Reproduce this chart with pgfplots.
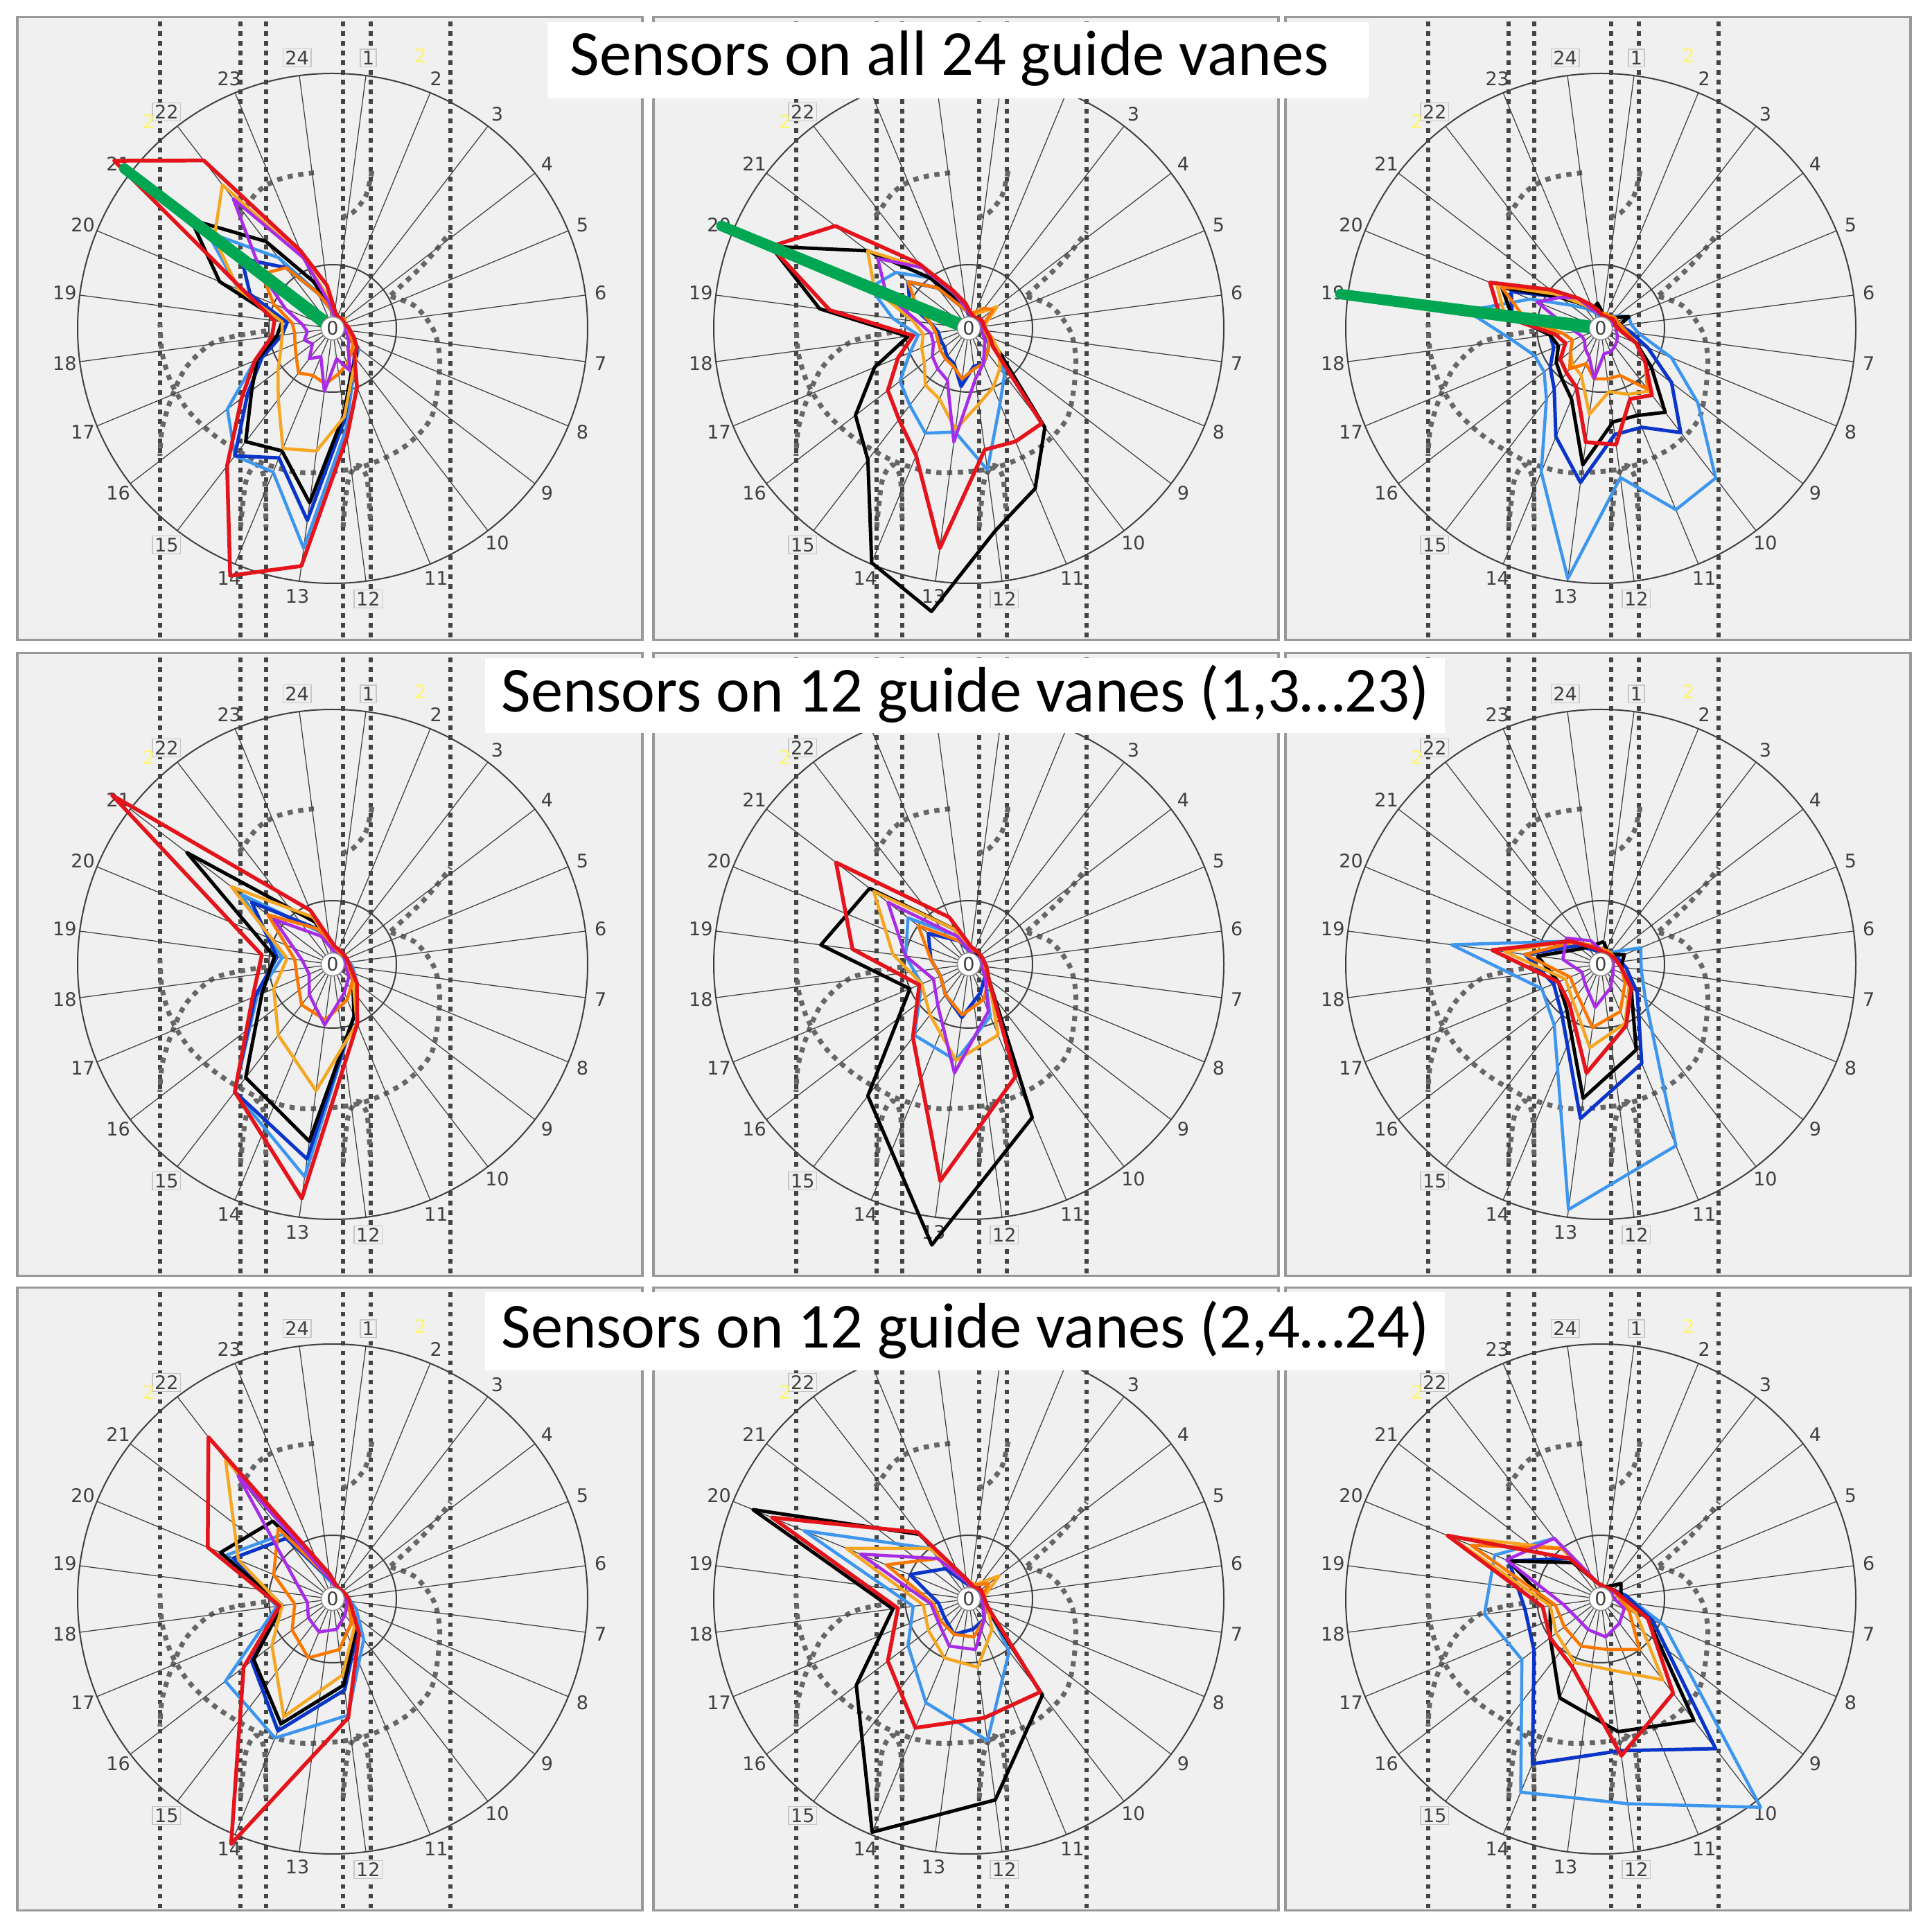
\documentclass[border=0pt]{standalone}
\usepackage{pgfplots}
\pgfplotsset{compat=1.18}
\usepackage{pgfplotstable}
\usepackage{fontspec}
\setmainfont{Carlito}
\newfontfamily\lblfont{DejaVu Sans}

\definecolor{panelbg}{HTML}{F0F0F0}
\definecolor{panelfr}{HTML}{999999}
\definecolor{gridc}{HTML}{404040}
\definecolor{geomc}{HTML}{666666}
\definecolor{vlinec}{HTML}{444444}
\definecolor{cRed}{HTML}{E3141B}
\definecolor{cBlue}{HTML}{0A35C8}
\definecolor{cLBlue}{HTML}{3D96EE}
\definecolor{cGold}{HTML}{F5A623}
\definecolor{cDOr}{HTML}{FA7800}
\definecolor{cPur}{HTML}{A82CE6}
\definecolor{cGreen}{HTML}{00A651}

% row 1: all 24 spokes (angle = 97.5 - 15*k)
% columns: a angle, l light blue, b blue, k black, o gold, d dark orange, p purple, r red, g green
\pgfplotstableread[row sep=\\]{
a l b k o d p r g\\
82.5 .05 .05 .06 .05 .05 .05 .07 .02\\
67.5 .04 .05 .05 .05 .05 .04 .05 .02\\
52.5 .04 .05 .05 .05 .05 .04 .05 .02\\
37.5 .05 .05 .05 .06 .06 .05 .05 .02\\
22.5 .05 .05 .05 .05 .05 .04 .05 .02\\
7.5 .05 .05 .05 .05 .05 .05 .06 .02\\
-7.5 .05 .06 .06 .06 .06 .05 .07 .02\\
-22.5 .07 .07 .08 .08 .07 .06 .09 .02\\
-37.5 .13 .11 .12 .10 .10 .08 .12 .02\\
-52.5 .15 .14 .15 .15 .12 .10 .14 .02\\
-67.5 .21 .20 .19 .20 .15 .18 .25 .02\\
-82.5 .40 .36 .34 .35 .18 .12 .43 .02\\
-97.5 .87 .76 .69 .485 .22 .25 .94 .02\\
-112.5 .61 .55 .52 .51 .20 .12 1.05 .02\\
-127.5 .63 .63 .56 .35 .22 .15 .68 .02\\
-142.5 .52 .42 .40 .27 .18 .10 .45 .02\\
-157.5 .33 .30 .32 .22 .16 .12 .33 .02\\
-172.5 .20 .20 .22 .20 .15 .10 .24 .02\\
-187.5 .18 .18 .20 .20 .16 .12 .23 .02\\
-202.5 .40 .35 .48 .40 .25 .20 .37 .02\\
-217.5 .62 .45 .70 .585 .35 .35 1.08 1.03\\
-232.5 .35 .30 .43 .71 .30 .64 .83 .02\\
-247.5 .15 .15 .20 .30 .15 .30 .33 .02\\
-262.5 .08 .08 .10 .12 .08 .10 .17 .02\\
-277.5 .05 .05 .06 .05 .05 .05 .07 .02\\
}\tAA

\pgfplotstableread[row sep=\\]{
a l b k o d p r g\\
82.5 .05 .05 .05 .06 .06 .05 .06 .02\\
67.5 .05 .05 .05 .06 .07 .04 .05 .02\\
52.5 .05 .05 .05 .08 .10 .04 .05 .02\\
37.5 .05 .05 .05 .14 .12 .05 .06 .02\\
22.5 .05 .05 .05 .08 .07 .05 .06 .02\\
7.5 .05 .05 .06 .06 .06 .05 .06 .02\\
-7.5 .06 .06 .07 .07 .06 .05 .07 .02\\
-22.5 .08 .07 .08 .10 .08 .06 .09 .02\\
-37.5 .15 .10 .15 .15 .10 .08 .12 .02\\
-52.5 .23 .12 .49 .20 .12 .10 .47 .02\\
-67.5 .32 .15 .68 .25 .15 .15 .48 .02\\
-82.5 .56 .15 .80 .30 .16 .20 .48 .02\\
-97.5 .41 .23 1.12 .40 .20 .45 .87 .02\\
-112.5 .445 .15 .995 .30 .16 .22 .54 .02\\
-127.5 .38 .14 .65 .28 .15 .20 .45 .02\\
-142.5 .34 .12 .56 .22 .14 .18 .40 .02\\
-157.5 .25 .12 .40 .20 .13 .15 .30 .02\\
-172.5 .20 .12 .24 .18 .13 .15 .22 .02\\
-187.5 .30 .15 .59 .22 .15 .20 .55 .02\\
-202.5 .42 .25 .84 .40 .22 .35 .84 1.05\\
-217.5 .36 .30 .50 .50 .30 .45 .66 .02\\
-232.5 .25 .20 .25 .30 .20 .30 .32 .02\\
-247.5 .12 .10 .12 .15 .10 .15 .16 .02\\
-262.5 .07 .07 .08 .08 .07 .08 .10 .02\\
-277.5 .05 .05 .05 .06 .06 .05 .06 .02\\
}\tAB

\pgfplotstableread[row sep=\\]{
a l b k o d p r g\\
82.5 .05 .05 .06 .06 .06 .05 .05 .02\\
67.5 .05 .05 .05 .06 .06 .05 .05 .02\\
52.5 .06 .05 .05 .06 .06 .05 .05 .02\\
37.5 .08 .06 .07 .07 .07 .05 .06 .02\\
22.5 .12 .07 .12 .07 .07 .05 .06 .02\\
7.5 .12 .08 .07 .08 .08 .06 .06 .02\\
-7.5 .15 .12 .08 .10 .10 .06 .08 .02\\
-22.5 .30 .20 .15 .15 .15 .07 .15 .02\\
-37.5 .48 .35 .25 .22 .22 .08 .22 .02\\
-52.5 .74 .515 .415 .31 .30 .09 .33 .02\\
-67.5 .77 .42 .37 .28 .20 .10 .30 .02\\
-82.5 .59 .42 .37 .25 .20 .10 .46 .02\\
-97.5 .99 .61 .54 .34 .20 .20 .45 .02\\
-112.5 .61 .46 .30 .20 .15 .12 .25 .02\\
-127.5 .35 .30 .25 .18 .20 .10 .22 .02\\
-142.5 .28 .25 .22 .15 .15 .08 .20 .02\\
-157.5 .28 .20 .18 .12 .12 .08 .15 .02\\
-172.5 .35 .20 .20 .15 .15 .10 .18 .02\\
-187.5 .53 .35 .35 .38 .30 .15 .40 1.03\\
-202.5 .30 .38 .42 .44 .42 .27 .47 .02\\
-217.5 .15 .20 .20 .22 .25 .20 .25 .02\\
-232.5 .10 .12 .12 .12 .15 .15 .15 .02\\
-247.5 .07 .08 .08 .08 .08 .08 .10 .02\\
-262.5 .05 .06 .10 .06 .06 .06 .07 .02\\
-277.5 .05 .05 .06 .06 .06 .05 .05 .02\\
}\tAC

% row 2: odd spokes 1,3,...,23
\pgfplotstableread[row sep=\\]{
a l b k o d p r\\
82.5 .05 .05 .06 .06 .05 .05 .07\\
52.5 .05 .05 .05 .05 .05 .04 .06\\
22.5 .06 .05 .05 .05 .06 .05 .06\\
-7.5 .08 .06 .06 .06 .06 .05 .07\\
-37.5 .12 .10 .10 .10 .10 .08 .12\\
-67.5 .22 .22 .22 .25 .15 .12 .253\\
-97.5 .84 .77 .70 .50 .22 .24 .926\\
-127.5 .63 .63 .56 .35 .20 .15 .63\\
-157.5 .32 .33 .30 .25 .15 .10 .34\\
-187.5 .20 .22 .23 .18 .15 .12 .28\\
-217.5 .45 .40 .72 .50 .32 .29 1.09\\
-247.5 .14 .15 .18 .20 .15 .12 .23\\
-277.5 .05 .05 .06 .06 .05 .05 .07\\
}\tBA

\pgfplotstableread[row sep=\\]{
a l b k o d p r\\
82.5 .05 .05 .06 .06 .06 .05 .07\\
52.5 .05 .05 .05 .06 .06 .04 .06\\
22.5 .05 .05 .05 .06 .06 .05 .06\\
-7.5 .06 .06 .07 .07 .06 .05 .07\\
-37.5 .08 .08 .10 .10 .10 .08 .10\\
-67.5 .22 .12 .65 .30 .15 .20 .477\\
-97.5 .38 .21 1.11 .38 .20 .43 .857\\
-127.5 .35 .15 .65 .25 .15 .20 .36\\
-157.5 .20 .12 .25 .20 .12 .15 .21\\
-187.5 .25 .15 .585 .30 .15 .25 .46\\
-217.5 .30 .20 .49 .47 .25 .40 .656\\
-247.5 .12 .10 .15 .15 .10 .12 .20\\
-277.5 .05 .05 .06 .06 .06 .05 .07\\
}\tBB

\pgfplotstableread[row sep=\\]{
a l b k o d p r\\
82.5 .05 .05 .09 .06 .06 .05 .05\\
52.5 .06 .05 .05 .06 .06 .05 .05\\
22.5 .17 .07 .10 .06 .06 .05 .06\\
-7.5 .16 .10 .08 .08 .08 .05 .08\\
-37.5 .22 .18 .15 .14 .12 .06 .15\\
-67.5 .77 .42 .363 .25 .20 .10 .26\\
-97.5 .97 .61 .53 .33 .25 .17 .43\\
-127.5 .30 .25 .22 .18 .15 .10 .20\\
-157.5 .25 .20 .18 .15 .13 .08 .18\\
-187.5 .59 .30 .25 .38 .30 .15 .43\\
-217.5 .15 .12 .10 .15 .14 .17 .15\\
-247.5 .06 .06 .08 .08 .08 .10 .07\\
-277.5 .05 .05 .09 .06 .06 .05 .05\\
}\tBC

% row 3: even spokes 2,4,...,24
\pgfplotstableread[row sep=\\]{
a l b k o d p r\\
67.5 .05 .05 .05 .05 .05 .04 .05\\
37.5 .05 .05 .05 .05 .05 .04 .05\\
7.5 .06 .05 .05 .05 .05 .05 .06\\
-22.5 .10 .08 .08 .07 .07 .06 .08\\
-52.5 .20 .16 .15 .14 .12 .08 .17\\
-82.5 .46 .36 .34 .30 .20 .12 .47\\
-112.5 .59 .56 .53 .50 .25 .14 1.04\\
-142.5 .53 .40 .39 .30 .20 .12 .44\\
-172.5 .22 .20 .20 .20 .15 .10 .21\\
-202.5 .45 .42 .476 .40 .25 .15 .53\\
-232.5 .32 .30 .385 .69 .35 .61 .80\\
-262.5 .07 .08 .08 .10 .08 .08 .10\\
-292.5 .05 .05 .05 .05 .05 .04 .05\\
}\tCA

\pgfplotstableread[row sep=\\]{
a l b k o d p r\\
67.5 .05 .05 .05 .06 .06 .04 .05\\
37.5 .05 .05 .06 .15 .10 .05 .06\\
7.5 .06 .05 .06 .06 .05 .05 .06\\
-22.5 .08 .06 .07 .08 .07 .06 .08\\
-52.5 .26 .10 .475 .15 .10 .10 .46\\
-82.5 .56 .12 .795 .27 .15 .20 .47\\
-112.5 .44 .15 .99 .25 .15 .20 .547\\
-142.5 .30 .12 .556 .20 .14 .15 .40\\
-172.5 .22 .12 .30 .18 .14 .15 .28\\
-202.5 .70 .25 .916 .52 .35 .46 .835\\
-232.5 .25 .15 .32 .25 .20 .20 .33\\
-262.5 .07 .06 .08 .08 .07 .07 .08\\
-292.5 .05 .05 .05 .06 .06 .04 .05\\
}\tCB

\pgfplotstableread[row sep=\\]{
a l b k o d p r\\
67.5 .05 .05 .05 .05 .05 .04 .05\\
37.5 .06 .06 .10 .06 .06 .05 .06\\
7.5 .10 .10 .08 .07 .07 .05 .08\\
-22.5 .27 .22 .20 .15 .12 .10 .20\\
-52.5 1.03 .74 .60 .40 .25 .12 .466\\
-82.5 .81 .60 .525 .28 .20 .15 .62\\
-112.5 .82 .70 .42 .27 .20 .13 .29\\
-142.5 .39 .33 .25 .22 .18 .12 .25\\
-172.5 .46 .30 .20 .20 .18 .15 .23\\
-202.5 .45 .39 .39 .64 .55 .40 .65\\
-232.5 .30 .20 .18 .25 .25 .30 .20\\
-262.5 .06 .06 .06 .06 .06 .06 .06\\
-292.5 .05 .05 .05 .05 .05 .04 .05\\
}\tCC

\tikzset{
  vdot/.style={draw=vlinec, line width=1.3pt, dash pattern=on 1.3pt off 1.5pt},
  cdot/.style={draw=geomc, line width=1.4pt, dash pattern=on 1.5pt off 1.6pt},
  spk/.style={draw=gridc, line width=0.25pt},
  circ/.style={draw=gridc, line width=0.4pt},
  lbl/.style={font=\lblfont\fontsize{5.4}{6}\selectfont, text=gridc, inner sep=0.6pt},
  blbl/.style={lbl, draw=gray!45, line width=0.3pt, fill=panelbg},
}

\pgfplotsset{
  radar/.style={anchor=origin, x=73.6pt, y=73.6pt,
    xmin=-1.237, xmax=1.215, ymin=-1.222, ymax=1.222, hide axis, clip=false},
  sLB/.style={data cs=polar, color=cLBlue, line width=0.9pt, line join=round, mark=none},
  sBL/.style={data cs=polar, color=cBlue, line width=1.0pt, line join=round, mark=none},
  sBK/.style={data cs=polar, color=black, line width=1.0pt, line join=round, mark=none},
  sOR/.style={data cs=polar, color=cGold, line width=0.9pt, line join=round, mark=none},
  sDO/.style={data cs=polar, color=cDOr, line width=0.9pt, line join=round, mark=none},
  sPU/.style={data cs=polar, color=cPur, line width=0.9pt, line join=round, mark=none},
  sRD/.style={data cs=polar, color=cRed, line width=1.1pt, line join=round, mark=none},
  sGR/.style={data cs=polar, color=cGreen, line width=3pt, line join=round, line cap=round, mark=none},
}

% background panel, turbine drawing, polar grid and spoke labels
% #3 = 1 draws the top labels (hidden under the title box in the middle column)
\newcommand\Panel[3]{%
\begin{scope}[shift={(#1,#2)},x=73.6pt,y=73.6pt]
\fill[panelbg] (-1.237,-1.222) rectangle (1.215,1.222);
\begin{scope}
\clip (-1.237,-1.222) rectangle (1.215,1.222);
\foreach \xx in {-0.677,-0.361,-0.261,0.041,0.149,0.462}{\draw[vdot] (\xx,-1.25) -- (\xx,1.25);}
\draw[cdot] plot[smooth] coordinates {(0.036,0.436) (0.081,0.456) (0.13,0.52) (0.155,0.62)};
\draw[cdot] plot[smooth] coordinates {(-0.366,0.44) (-0.33,0.49) (-0.293,0.537) (-0.228,0.578) (-0.15,0.60) (-0.065,0.611)};
\draw[cdot] plot[smooth] coordinates {(0.228,0.125) (0.326,0.085) (0.40,-0.016) (0.42,-0.147) (0.39,-0.342) (0.30,-0.45) (0.19,-0.515) (0.065,-0.554) (-0.13,-0.565) (-0.293,-0.521) (-0.45,-0.43) (-0.56,-0.33) (-0.63,-0.22) (-0.668,-0.10) (-0.677,0.02)};
\draw[cdot] plot[smooth] coordinates {(0.228,0.13) (0.334,0.228) (0.40,0.30) (0.462,0.38)};
\draw[cdot] plot[smooth] coordinates {(-0.26,-0.01) (-0.456,-0.05) (-0.57,-0.147) (-0.627,-0.26) (-0.668,-0.39) (-0.677,-0.5)};
\draw[cdot] plot[smooth] coordinates {(-0.361,-0.78) (-0.34,-0.6) (-0.30,-0.535) (-0.268,-0.59) (-0.261,-0.78)};
\draw[cdot] plot[smooth] coordinates {(0.041,-0.78) (0.06,-0.6) (0.098,-0.537) (0.135,-0.59) (0.149,-0.78)};
\end{scope}
\draw[draw=panelfr,line width=0.7pt] (-1.237,-1.222) rectangle (1.215,1.222);
\draw[circ] (0,0) circle[radius=1];
\draw[circ] (0,0) circle[radius=0.25];
\foreach \k in {1,...,24}{\draw[spk] ({97.5-15*\k}:0.045) -- ({97.5-15*\k}:1);}
\foreach \k in {3,...,11,13,14,16,17,18,19,20,21}{\node[lbl] at ({97.5-15*\k}:1.06) {\k};}
\foreach \k in {12,15,22}{\node[blbl] at ({97.5-15*\k}:1.07) {\k};}
\node[lbl,text=yellow!60!white] at (-0.72,0.81) {2};
\ifnum#3=1
\foreach \k in {2,23}{\node[lbl] at ({97.5-15*\k}:1.06) {\k};}
\foreach \k in {1,24}{\node[blbl] at ({97.5-15*\k}:1.07) {\k};}
\node[lbl,text=yellow!60!white] at (0.345,1.07) {2};
\fi
\end{scope}}

\newcommand\Hole[2]{%
\begin{scope}[shift={(#1,#2)},x=73.6pt,y=73.6pt]
\fill[white] (0,0) circle[radius=0.045];
\draw[gridc!60, line width=0.3pt] (0,0) circle[radius=0.045];
\node[lbl] at (0,0) {0};
\end{scope}}

\newcommand\Series[1]{%
\addplot[sLB] table[x=a,y=l]{#1};
\addplot[sBL] table[x=a,y=b]{#1};
\addplot[sBK] table[x=a,y=k]{#1};
\addplot[sOR] table[x=a,y=o]{#1};
\addplot[sDO] table[x=a,y=d]{#1};
\addplot[sPU] table[x=a,y=p]{#1};
\addplot[sRD] table[x=a,y=r]{#1};
}

\begin{document}
\begin{tikzpicture}
\useasboundingbox[fill=white] (0,0) rectangle (557.6pt,-556pt);

\Panel{96pt}{-94.8pt}{1}\Panel{279.6pt}{-94.8pt}{0}\Panel{462pt}{-94.8pt}{1}
\Panel{96pt}{-278.4pt}{1}\Panel{279.6pt}{-278.4pt}{0}\Panel{462pt}{-278.4pt}{1}
\Panel{96pt}{-461.6pt}{1}\Panel{279.6pt}{-461.6pt}{0}\Panel{462pt}{-461.6pt}{1}

\begin{axis}[radar, at={(96pt,-94.8pt)}]
\Series{\tAA}
\addplot[sGR] table[x=a,y=g]{\tAA};
\end{axis}
\begin{axis}[radar, at={(279.6pt,-94.8pt)}]
\Series{\tAB}
\addplot[sGR] table[x=a,y=g]{\tAB};
\end{axis}
\begin{axis}[radar, at={(462pt,-94.8pt)}]
\Series{\tAC}
\addplot[sGR] table[x=a,y=g]{\tAC};
\end{axis}

\begin{axis}[radar, at={(96pt,-278.4pt)}]
\Series{\tBA}
\end{axis}
\begin{axis}[radar, at={(279.6pt,-278.4pt)}]
\Series{\tBB}
\end{axis}
\begin{axis}[radar, at={(462pt,-278.4pt)}]
\Series{\tBC}
\end{axis}

\begin{axis}[radar, at={(96pt,-461.6pt)}]
\Series{\tCA}
\end{axis}
\begin{axis}[radar, at={(279.6pt,-461.6pt)}]
\Series{\tCB}
\end{axis}
\begin{axis}[radar, at={(462pt,-461.6pt)}]
\Series{\tCC}
\end{axis}

\Hole{96pt}{-94.8pt}\Hole{279.6pt}{-94.8pt}\Hole{462pt}{-94.8pt}
\Hole{96pt}{-278.4pt}\Hole{279.6pt}{-278.4pt}\Hole{462pt}{-278.4pt}
\Hole{96pt}{-461.6pt}\Hole{279.6pt}{-461.6pt}\Hole{462pt}{-461.6pt}

% row titles
\fill[white] (158pt,-6.4pt) rectangle (395pt,-28.4pt);
\node[anchor=base, font=\fontsize{18.5}{22}\selectfont] at (274pt,-21.8pt) {Sensors on all 24 guide vanes};
\fill[white] (140pt,-190pt) rectangle (417pt,-211.6pt);
\node[anchor=base, font=\fontsize{18.5}{22}\selectfont] at (278.6pt,-205.6pt) {Sensors on 12 guide vanes (1,3…23)};
\fill[white] (140pt,-373pt) rectangle (417pt,-395.6pt);
\node[anchor=base, font=\fontsize{18.5}{22}\selectfont] at (278.6pt,-389pt) {Sensors on 12 guide vanes (2,4…24)};
\end{tikzpicture}
\end{document}
